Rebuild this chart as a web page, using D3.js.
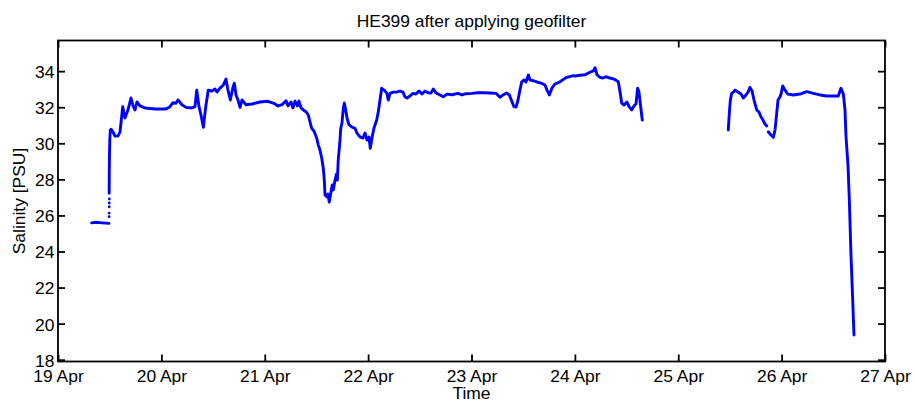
<!DOCTYPE html>
<meta charset="utf-8">
<style>
  body { margin: 0; background: #fff; }
  text { font-family: Arial, "Liberation Sans", sans-serif; fill: #000; }
</style>
<script src="https://cdn.jsdelivr.net/npm/d3@7"></script>
<div id="chart"></div>
<script>

// time in days after 19 Apr 00:00, null = gap in the record
var days = [
  0.326, 0.368, 0.426, 0.493, null,
  0.495, 0.496, 0.498, 0.501, 0.506, 0.513, 0.532, 0.551, 0.580, 0.600,
  0.626, 0.648, 0.677, 0.706, 0.726, 0.745, 0.764, 0.793, 0.842, 0.938,
  1.045, 1.083, 1.112, 1.141, 1.161, 1.199, 1.238, 1.296, 1.325, 1.342,
  1.364, 1.383, 1.406, 1.429, 1.454, 1.490, 1.519, 1.538, 1.567, 1.599,
  1.625, 1.644, 1.667, 1.693, 1.706, 1.722, 1.741, 1.761, 1.780, 1.819,
  1.877, 1.954, 2.031, 2.089, 2.128, 2.167, 2.206, 2.225, 2.254, 2.273,
  2.293, 2.315, 2.331, 2.351, 2.373, 2.399, 2.421, 2.438, 2.454, 2.476,
  2.503, 2.518, 2.534, 2.551, 2.566, 2.576, 2.583, 2.599, 2.612, 2.624,
  2.641, 2.653, 2.663, 2.680, 2.693, 2.702, 2.711, 2.728, 2.735, 2.747,
  2.760, 2.770, 2.783, 2.796, 2.815, 2.844, 2.873, 2.892, 2.921, 2.950,
  2.970, 2.989, 3.008, 3.021, 3.037, 3.057, 3.083, 3.098, 3.115, 3.131,
  3.154, 3.180, 3.195, 3.212, 3.244, 3.279, 3.308, 3.337, 3.357, 3.376,
  3.405, 3.434, 3.463, 3.492, 3.521, 3.550, 3.579, 3.608, 3.631, 3.657,
  3.695, 3.727, 3.763, 3.811, 3.869, 3.908, 3.947, 4.005, 4.063, 4.121,
  4.179, 4.237, 4.275, 4.305, 4.340, 4.366, 4.389, 4.411, 4.431, 4.450,
  4.469, 4.486, 4.508, 4.527, 4.550, 4.566, 4.595, 4.634, 4.672, 4.711,
  4.731, 4.753, 4.779, 4.808, 4.856, 4.914, 4.985, 5.001, 5.050, 5.098,
  5.146, 5.178, 5.195, 5.214, 5.243, 5.272, 5.301, 5.340, 5.378, 5.420,
  5.437, 5.453, 5.476, 5.504, 5.524, 5.550, 5.572, 5.591, 5.607, 5.620,
  5.637, 5.652, null,
  6.484, 6.494, 6.504, 6.517, 6.533, 6.549, 6.578, 6.607, 6.629, 6.655,
  6.675, 6.694, 6.714, 6.733, 6.759, 6.781, 6.801, 6.820, 6.839, 6.856, null,
  6.871, 6.897, 6.920, 6.936, 6.949, 6.965, 6.984, 6.997, 7.010, 7.033,
  7.059, 7.113, 7.178, 7.243, 7.306, 7.371, 7.436, 7.497, 7.548, 7.574,
  7.597, 7.613, 7.623, 7.642, 7.655, 7.671, 7.684, 7.700
];

var salinity = [
  25.59, 25.62, 25.59, 25.56, null,
  27.23, 28.24, 29.35, 30.18, 30.74, 30.78, 30.63, 30.40, 30.40, 30.63,
  32.03, 31.40, 31.85, 32.51, 32.07, 31.85, 32.29, 32.07, 31.96, 31.90,
  31.90, 32.03, 32.25, 32.22, 32.40, 32.14, 31.99, 31.96, 32.03, 32.95,
  32.03, 31.57, 30.89, 32.03, 32.95, 32.90, 33.01, 32.84, 33.06, 33.23,
  33.56, 32.95, 32.40, 33.12, 33.33, 32.68, 32.40, 31.99, 32.40, 32.14,
  32.18, 32.29, 32.33, 32.22, 32.07, 32.14, 32.36, 32.08, 32.29, 31.96,
  32.34, 32.07, 32.34, 31.96, 31.85, 31.75, 31.57, 31.18, 30.83, 30.68,
  30.28, 29.90, 29.63, 29.18, 28.63, 27.96, 27.13, 27.04, 27.19, 26.74,
  27.30, 27.69, 27.41, 27.96, 28.29, 27.96, 29.07, 30.18, 30.83, 31.12,
  31.96, 32.23, 31.85, 31.40, 31.03, 30.90, 30.83, 30.57, 30.35, 30.29,
  30.57, 30.18, 30.35, 29.72, 30.29, 30.85, 31.29, 31.73, 32.40, 33.05,
  32.95, 32.79, 32.40, 32.77, 32.84, 32.84, 32.90, 32.84, 32.57, 32.51,
  32.62, 32.77, 32.73, 32.90, 32.73, 32.90, 32.80, 32.79, 33.01, 32.79,
  32.68, 32.58, 32.73, 32.69, 32.77, 32.68, 32.75, 32.77, 32.80, 32.80,
  32.79, 32.77, 32.55, 32.68, 32.79, 32.68, 32.34, 32.03, 32.01, 32.40,
  32.95, 33.41, 33.51, 33.40, 33.79, 33.51, 33.47, 33.40, 33.34, 33.23,
  32.95, 32.68, 33.07, 33.29, 33.41, 33.64, 33.75, 33.73, 33.77, 33.80,
  33.94, 34.01, 34.19, 33.80, 33.66, 33.62, 33.69, 33.62, 33.56, 33.41,
  32.84, 32.23, 32.12, 32.29, 32.03, 31.85, 32.07, 32.18, 33.05, 32.84,
  32.01, 31.29, null,
  30.74, 31.68, 32.40, 32.77, 32.84, 32.95, 32.84, 32.73, 32.51, 32.68,
  32.84, 33.10, 32.90, 32.40, 31.85, 31.73, 31.46, 31.29, 31.07, 30.96, null,
  30.64, 30.46, 30.33, 30.74, 31.46, 32.40, 32.57, 32.79, 33.18, 32.95,
  32.73, 32.68, 32.73, 32.86, 32.77, 32.68, 32.62, 32.62, 32.62, 33.05,
  32.73, 31.85, 30.35, 28.79, 26.85, 23.80, 21.86, 19.37
];

// isolated samples on the first steep rise
var dotDays = [0.494, 0.495, 0.495, 0.496, 0.497];
var dotSalinity = [25.93, 26.13, 26.48, 26.69, 26.91];

var xTickDays = [0, 1, 2, 3, 4, 5, 6, 7, 8];
var xTickLabels = ["19 Apr", "20 Apr", "21 Apr", "22 Apr", "23 Apr", "24 Apr", "25 Apr", "26 Apr", "27 Apr"];
var yTicks = [18, 20, 22, 24, 26, 28, 30, 32, 34];

var start = Date.UTC(2013, 3, 19);
function toDate(d) { return new Date(start + d * 864e5); }

var width = 915, height = 403;
var margin = {top: 40.5, right: 30, bottom: 41.5, left: 58};
var stretch = 1.09;   // text in the figure is a little wider than plain Arial

var svg = d3.select("#chart").append("svg")
    .attr("width", width)
    .attr("height", height);

var x = d3.scaleUtc()
    .domain([toDate(0), toDate(8)])
    .range([margin.left, width - margin.right]);

var y = d3.scaleLinear()
    .domain([17.9, 35.7])
    .range([height - margin.bottom, margin.top]);

svg.append("clipPath").attr("id", "clip")
  .append("rect")
    .attr("x", margin.left).attr("y", margin.top)
    .attr("width", width - margin.left - margin.right)
    .attr("height", height - margin.top - margin.bottom);

// data
var points = days.map(function(d, i) { return {t: d, s: salinity[i]}; });

var line = d3.line()
    .defined(function(d) { return d.t != null && d.s != null; })
    .x(function(d) { return x(toDate(d.t)); })
    .y(function(d) { return y(d.s); });

svg.append("path")
    .datum(points)
    .attr("clip-path", "url(#clip)")
    .attr("d", line)
    .attr("fill", "none")
    .attr("stroke", "#0000ff")
    .attr("stroke-width", 2.9)
    .attr("stroke-linejoin", "round")
    .attr("stroke-linecap", "round");

svg.append("g").selectAll("circle")
    .data(dotDays)
    .enter().append("circle")
      .attr("cx", function(d) { return x(toDate(d)); })
      .attr("cy", function(d, i) { return y(dotSalinity[i]); })
      .attr("r", 1.4)
      .attr("fill", "#0000ff");

// axes, MATLAB style box with inward ticks
var xTickDates = xTickDays.map(toDate);

var gx = svg.append("g")
    .attr("transform", "translate(0," + (height - margin.bottom) + ")")
    .call(d3.axisBottom(x).tickValues(xTickDates)
      .tickFormat(function(d, i) { return xTickLabels[i]; })
      .tickSize(-7).tickPadding(8.8));

svg.append("g")
    .attr("transform", "translate(0," + margin.top + ")")
    .call(d3.axisTop(x).tickValues(xTickDates).tickFormat("").tickSize(-7));

var gy = svg.append("g")
    .attr("transform", "translate(" + margin.left + ",0)")
    .call(d3.axisLeft(y).tickValues(yTicks).tickSize(-7).tickPadding(3.5));

svg.append("g")
    .attr("transform", "translate(" + (width - margin.right) + ",0)")
    .call(d3.axisRight(y).tickValues(yTicks).tickFormat("").tickSize(-7));

svg.selectAll(".domain").remove();
svg.selectAll(".tick line").attr("stroke", "#000").attr("stroke-width", 1.8);
svg.selectAll(".tick text")
    .attr("font-size", "16px")
    .attr("font-family", "Arial, 'Liberation Sans', sans-serif")
    .attr("fill", "#000")
    .attr("transform", "scale(" + stretch + ",1)");
gy.selectAll(".tick text").attr("x", -3.5 / stretch).attr("dy", "0.4em");

svg.append("rect")
    .attr("x", margin.left).attr("y", margin.top)
    .attr("width", width - margin.left - margin.right)
    .attr("height", height - margin.top - margin.bottom)
    .attr("fill", "none")
    .attr("stroke", "#000")
    .attr("stroke-width", 1.8);

// labels
var cx = (margin.left + width - margin.right) / 2;

svg.append("text")
    .attr("transform", "translate(" + cx + ",26.5) scale(" + stretch + ",1)")
    .attr("text-anchor", "middle")
    .style("font-size", "16px")
    .text("HE399 after applying geofilter");

svg.append("text")
    .attr("transform", "translate(" + cx + ",399) scale(" + stretch + ",1)")
    .attr("text-anchor", "middle")
    .style("font-size", "16px")
    .text("Time");

svg.append("text")
    .attr("transform", "translate(25," + ((margin.top + height - margin.bottom) / 2) + ") rotate(-90) scale(" + stretch + ",1)")
    .attr("text-anchor", "middle")
    .style("font-size", "16px")
    .text("Salinity [PSU]");

</script>
